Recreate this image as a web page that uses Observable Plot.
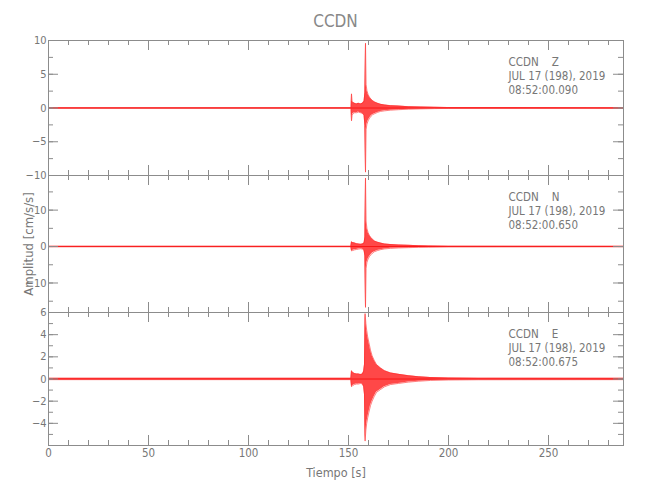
<!DOCTYPE html>
<html><head><meta charset="utf-8">
<script src="https://cdn.jsdelivr.net/npm/d3@7"></script>
<script src="https://cdn.jsdelivr.net/npm/@observablehq/plot@0.6"></script>
<style>
body{margin:0;background:#fff;}
#chart{position:relative;width:650px;height:500px;font-family:"DejaVu Sans Condensed","DejaVu Sans",sans-serif;color:#777;background:#fff;}
#chart svg{position:absolute;left:0;top:0;}
#title{position:absolute;top:11px;left:48px;width:575px;text-align:center;font-size:17px;color:#888;line-height:20px;}
</style></head><body>
<div id="chart"><div id="title">CCDN</div></div>
<script>
// ---- data ----
const xTicks = [0, 50, 100, 150, 200, 250];
const xMinorTicks = d3.range(0, 290, 10);

// Z component envelope (cm/s/s)
const tZ  = [0, 151.3, 151.5, 151.8, 152.3, 153, 154, 155, 156, 157, 157.8, 158.2, 158.5, 158.8, 159.2, 159.8, 160.5, 161.3, 162, 163, 164.5, 166, 168, 171, 175, 180, 186, 193, 200, 287.5];
const zHi = [0.05, 0.05, 2.1, 1.0, 0.8, 0.7, 0.6, 0.7, 0.6, 0.7, 1.0, 2.3, 9.6, 3.5, 2.6, 2.0, 1.6, 1.3, 1.1, 0.9, 0.7, 0.55, 0.45, 0.35, 0.28, 0.2, 0.15, 0.1, 0.06, 0.05];
const zLo = [-0.05, -0.05, -1.9, -1.1, -0.8, -0.7, -0.7, -0.6, -0.7, -0.8, -1.1, -2.6, -9.5, -3.2, -2.4, -1.9, -1.5, -1.2, -1.0, -0.85, -0.65, -0.5, -0.42, -0.32, -0.25, -0.18, -0.13, -0.09, -0.06, -0.05];

// N component envelope
const tN  = [0, 151.2, 151.5, 152, 153, 154, 155, 156, 157, 157.8, 158.2, 158.5, 158.8, 159.2, 159.8, 160.5, 161.3, 162, 163, 164.5, 166, 168, 171, 175, 180, 185, 190, 200, 287.5];
const nHi = [0.06, 0.06, 1.3, 1.1, 1.0, 0.8, 0.7, 0.6, 0.7, 1.0, 2.6, 18.8, 7, 5.0, 3.8, 3.0, 2.4, 2.0, 1.5, 1.2, 0.95, 0.7, 0.55, 0.42, 0.33, 0.25, 0.18, 0.1, 0.06];
const nLo = [-0.06, -0.06, -1.2, -1.1, -0.9, -0.8, -0.7, -0.6, -0.7, -1.1, -2.6, -16.7, -6, -4.4, -3.4, -2.7, -2.2, -1.8, -1.4, -1.1, -0.85, -0.65, -0.5, -0.38, -0.3, -0.22, -0.18, -0.1, -0.06];

// E component envelope
const tE  = [0, 151.2, 151.5, 152, 153, 154, 155, 156, 157, 157.6, 158, 158.3, 158.7, 159.1, 159.6, 160.2, 161, 161.8, 162.8, 164, 166, 168, 171, 175, 180, 185, 191, 200, 215, 287.5];
const eHi = [0.06, 0.06, 0.75, 0.6, 0.5, 0.45, 0.45, 0.4, 0.45, 0.7, 1.3, 5.9, 5.0, 4.4, 3.8, 3.3, 2.6, 2.1, 1.7, 1.3, 1.0, 0.75, 0.55, 0.42, 0.3, 0.2, 0.13, 0.09, 0.07, 0.06];
const eLo = [-0.06, -0.06, -0.7, -0.6, -0.5, -0.45, -0.45, -0.4, -0.45, -0.7, -1.4, -5.6, -4.6, -4.0, -3.5, -3.0, -2.4, -2.0, -1.6, -1.2, -0.95, -0.7, -0.5, -0.4, -0.28, -0.2, -0.13, -0.09, -0.07, -0.06];

const notes = {
  Z: "CCDN\u00a0\u00a0\u00a0\u00a0Z\nJUL 17 (198), 2019\n08:52:00.090",
  N: "CCDN\u00a0\u00a0\u00a0\u00a0N\nJUL 17 (198), 2019\n08:52:00.650",
  E: "CCDN\u00a0\u00a0\u00a0\u00a0E\nJUL 17 (198), 2019\n08:52:00.675"
};
const yLabelText = "Amplitud [cm/s/s]";
const xLabelText = "Tiempo [s]";

// ---- drawing ----
const AX = "#8c8c8c", TX = "#777";
const FONT = '"DejaVu Sans Condensed","DejaVu Sans",sans-serif';
const xDom = [0, 287.5];
const fmt = d => d < 0 ? "\u2212" + (-d) : String(d);

function panel(o) {
  const W = 650, H = 500, mL = 48, mR = 27;
  const innerW = W - mL - mR, innerH = o.bottom - o.top;
  const xu = (xDom[1] - xDom[0]) / innerW;
  const yu = (o.yDomain[1] - o.yDomain[0]) / innerH;
  const rows = o.t.map((tt, i) => ({t: tt, hi: o.hi[i], lo: o.lo[i]}));
  const y0 = o.yDomain[0], y1 = o.yDomain[1];
  const marks = [
    Plot.ruleY([0], {stroke: "#e00000", strokeWidth: 1}),
    Plot.areaY(rows, {x: "t", y1: "lo", y2: "hi", fill: "#ff1a1a", fillOpacity: 0.8}),
    Plot.line(rows, {x: "t", y: "hi", stroke: "#ff2a2a", strokeWidth: 0.6}),
    Plot.line(rows, {x: "t", y: "lo", stroke: "#ff2a2a", strokeWidth: 0.6}),
    Plot.frame({stroke: AX}),
    // y ticks (left and right, inward)
    Plot.ruleY(o.yMajor, {y: d => d, x1: xDom[0], x2: xDom[0] + 10 * xu, stroke: AX}),
    Plot.ruleY(o.yMinor, {y: d => d, x1: xDom[0], x2: xDom[0] + 5 * xu, stroke: AX}),
    Plot.ruleY(o.yMajor, {y: d => d, x1: xDom[1], x2: xDom[1] - 10 * xu, stroke: AX}),
    Plot.ruleY(o.yMinor, {y: d => d, x1: xDom[1], x2: xDom[1] - 5 * xu, stroke: AX}),
    // x ticks (top and bottom, inward)
    Plot.ruleX(xTicks, {x: d => d, y1: y1, y2: y1 - 10 * yu, stroke: AX}),
    Plot.ruleX(xMinorTicks, {x: d => d, y1: y1, y2: y1 - 5 * yu, stroke: AX}),
    Plot.ruleX(xTicks, {x: d => d, y1: y0, y2: y0 + 10 * yu, stroke: AX}),
    Plot.ruleX(xMinorTicks, {x: d => d, y1: y0, y2: y0 + 5 * yu, stroke: AX}),
    Plot.axisY(o.yLabels, {tickSize: 0, tickPadding: 2, fontSize: 11, tickFormat: fmt, fill: TX}),
    Plot.text([{x: 230, s: o.note}], {x: "x", text: "s", frameAnchor: "top", textAnchor: "start", lineAnchor: "top", dy: 15, fontSize: 11.5, lineHeight: 1.25, fill: TX})
  ];
  if (o.xAxis) {
    marks.push(Plot.axisX(xTicks, {tickSize: 0, tickPadding: 3, fontSize: 11.5, fill: TX}));
    marks.push(Plot.text([xLabelText], {frameAnchor: "bottom", lineAnchor: "middle", dy: 27, fontSize: 12.5, fill: TX}));
  }
  if (o.yLabel) {
    marks.push(Plot.text([yLabelText], {frameAnchor: "left", textAnchor: "middle", lineAnchor: "middle", rotate: -90, dx: -20, fontSize: 13, fill: TX}));
  }
  const svg = Plot.plot({
    width: W, height: H,
    marginLeft: mL, marginRight: mR, marginTop: o.top, marginBottom: H - o.bottom,
    x: o.xAxis ? {domain: xDom, label: null} : {domain: xDom, label: null, axis: null},
    y: {domain: o.yDomain, label: null},
    style: {background: "transparent", overflow: "visible", fontFamily: FONT, color: TX},
    marks
  });
  document.getElementById("chart").appendChild(svg);
}

panel({top: 40, bottom: 175, yDomain: [-10, 10], yLabels: [-10, -5, 0, 5, 10],
  yMajor: [-10, -5, 0, 5, 10], yMinor: d3.range(-10, 10.01, 2.5),
  t: tZ, hi: zHi, lo: zLo, note: notes.Z});
panel({top: 175, bottom: 312, yDomain: [-18.1, 19.5], yLabels: [-10, 0, 10],
  yMajor: [-10, 0, 10], yMinor: d3.range(-15, 19.6, 5),
  t: tN, hi: nHi, lo: nLo, note: notes.N, yLabel: true});
panel({top: 312, bottom: 445, yDomain: [-6, 6], yLabels: [-4, -2, 0, 2, 4, 6],
  yMajor: [-6, -4, -2, 0, 2, 4, 6], yMinor: d3.range(-6, 6.01, 1),
  t: tE, hi: eHi, lo: eLo, note: notes.E, xAxis: true});
</script>
</body></html>
